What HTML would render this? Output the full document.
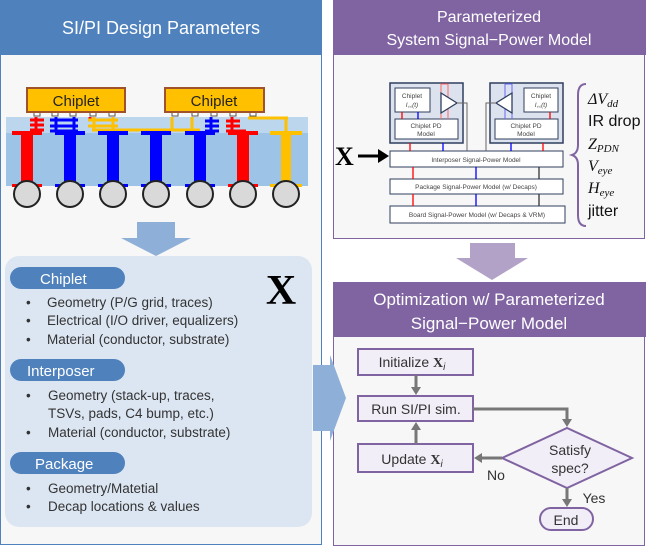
<!DOCTYPE html>
<html><head><style>
body{margin:0;width:646px;height:546px;background:#fff;overflow:hidden}
text{font-family:"Liberation Sans",sans-serif}
</style></head><body>
<svg width="646" height="546" viewBox="0 0 646 546" xmlns="http://www.w3.org/2000/svg">
<!-- left panel -->
<rect x="0.5" y="0.5" width="321" height="544" fill="#f7f7f7" stroke="#4f81bd"/>
<rect x="0" y="0" width="322" height="55" fill="#4f81bd"/>
<text x="161" y="34" font-size="18" fill="#fff" text-anchor="middle">SI/PI Design Parameters</text>
<rect x="6" y="117" width="302" height="17" fill="#bcd6ee"/>
<rect x="6" y="133" width="302" height="53" fill="#9dc3e6"/>
<g fill="#fff" stroke="#555" stroke-width="1">
<rect x="34" y="112" width="6" height="4"/><rect x="52" y="112" width="6" height="4"/><rect x="70" y="112" width="6" height="4"/><rect x="90" y="112" width="6" height="4"/><rect x="109" y="112" width="6" height="4"/>
<rect x="172" y="112" width="6" height="4"/><rect x="192" y="112" width="6" height="4"/><rect x="211" y="112" width="6" height="4"/><rect x="230" y="112" width="6" height="4"/><rect x="250" y="112" width="6" height="4"/>
</g>
<rect x="27" y="88" width="98" height="24" fill="#ffc000" stroke="#a0522d" stroke-width="2"/>
<rect x="165" y="88" width="99" height="24" fill="#ffc000" stroke="#a0522d" stroke-width="2"/>
<text x="76" y="106" font-size="15" text-anchor="middle" fill="#222">Chiplet</text>
<text x="214" y="106" font-size="15" text-anchor="middle" fill="#222">Chiplet</text>
<g stroke-width="3">
<path d="M36 117v15M30 120h14M30 125h14M30 130h14M90 117v2" stroke="#f00"/>
<path d="M56 117v14M74 117v14M50 120h28M50 126h28M50 131h28" stroke="#00f"/>
<path d="M94 117v12M113 117v12M88 120h30M88 126h30M92 130h108M172 117v12M192 117v12" stroke="#ffc000"/>
<path d="M211 117v14M205 121h14M205 126h14M205 131h14" stroke="#00f"/>
<path d="M232 117v14M226 121h14M226 126h14M226 131h20" stroke="#f00"/>
<path d="M248 118h40M286 118v15" stroke="#ffc000"/>
</g>
<g>
<rect x="21" y="134" width="12" height="51" fill="#f00"/><rect x="12" y="131" width="30" height="4" fill="#f00"/><rect x="12" y="184" width="30" height="3" fill="#f00"/>
<rect x="64" y="134" width="12" height="51" fill="#00f"/><rect x="55" y="131" width="30" height="4" fill="#00f"/><rect x="55" y="184" width="30" height="3" fill="#00f"/>
<rect x="107" y="134" width="12" height="51" fill="#00f"/><rect x="98" y="131" width="30" height="4" fill="#00f"/><rect x="98" y="184" width="30" height="3" fill="#00f"/>
<rect x="150" y="134" width="12" height="51" fill="#00f"/><rect x="141" y="131" width="30" height="4" fill="#00f"/><rect x="141" y="184" width="30" height="3" fill="#00f"/>
<rect x="194" y="134" width="12" height="51" fill="#00f"/><rect x="185" y="131" width="30" height="4" fill="#00f"/><rect x="185" y="184" width="30" height="3" fill="#00f"/>
<rect x="237" y="134" width="12" height="51" fill="#f00"/><rect x="228" y="131" width="30" height="4" fill="#f00"/><rect x="228" y="184" width="30" height="3" fill="#f00"/>
<rect x="281" y="134" width="10" height="51" fill="#ffc000"/><rect x="270" y="131" width="32" height="4" fill="#ffc000"/><rect x="270" y="184" width="32" height="3" fill="#ffc000"/>
</g>
<g fill="#d9d9d9" stroke="#222" stroke-width="2">
<circle cx="27" cy="194" r="13"/><circle cx="70" cy="194" r="13"/><circle cx="113" cy="194" r="13"/><circle cx="156" cy="194" r="13"/><circle cx="200" cy="194" r="13"/><circle cx="243" cy="194" r="13"/><circle cx="286" cy="194" r="13"/>
</g>
<polygon points="137,222 175,222 175,238 191,238 156,256 121,238 137,238" fill="#8eb0d8"/>
<rect x="5" y="256" width="307" height="271" rx="14" fill="#dce6f2"/>
<text x="281" y="304" font-size="42" font-weight="bold" text-anchor="middle" fill="#000" style="font-family:'Liberation Serif',serif">X</text>
<g fill="#4f81bd"><rect x="10" y="267" width="115" height="22" rx="11"/><rect x="10" y="359" width="115" height="22" rx="11"/><rect x="10" y="452" width="115" height="22" rx="11"/></g>
<g fill="#fff" font-size="15"><text x="40" y="284">Chiplet</text><text x="27" y="376">Interposer</text><text x="35" y="469">Package</text></g>
<g fill="#333" font-size="13.5">
<text x="26" y="307">•</text><text x="47" y="307">Geometry (P/G grid,  traces)</text>
<text x="26" y="325">•</text><text x="47" y="325">Electrical (I/O driver, equalizers)</text>
<text x="26" y="344">•</text><text x="47" y="344">Material (conductor, substrate)</text>
<text x="26" y="400">•</text><text x="48" y="400">Geometry (stack-up, traces,</text>
<text x="48" y="418">TSVs, pads, C4 bump, etc.)</text>
<text x="26" y="437">•</text><text x="48" y="437">Material (conductor, substrate)</text>
<text x="26" y="493">•</text><text x="48" y="493">Geometry/Matetial</text>
<text x="26" y="511">•</text><text x="48" y="511">Decap locations &amp; values</text>
</g>

<!-- right top panel -->
<rect x="333.5" y="0.5" width="311" height="238" fill="#f7f7f7" stroke="#8064a2"/>
<rect x="333" y="0" width="313" height="55" fill="#8064a2"/>
<text x="489" y="22" font-size="16" fill="#fff" text-anchor="middle">Parameterized</text>
<text x="489" y="45" font-size="16" fill="#fff" text-anchor="middle">System Signal−Power Model</text>
<g stroke="#2f3f5f" fill="#fff">
<rect x="390" y="83" width="73" height="60" stroke-width="1.5" fill="#dde3ee"/>
<rect x="490" y="83" width="73" height="60" stroke-width="1.5" fill="#dde3ee"/>
<rect x="395" y="88" width="35" height="24"/><rect x="524" y="88" width="34" height="24"/>
<rect x="395" y="119" width="63" height="20"/><rect x="495" y="119" width="63" height="20"/>
<rect x="390" y="151" width="173" height="16"/><rect x="390" y="179" width="173" height="15"/><rect x="390" y="206" width="175" height="17"/>
</g>
<path d="M441 84v35M448 84v35M441 84h7" stroke="#f66" fill="none"/>
<path d="M505 84v35M512 84v35M505 84h7" stroke="#66f" fill="none"/>
<polygon points="441,93 457,103 441,113" fill="#fff" stroke="#2f3f5f" stroke-width="1.3"/>
<polygon points="512,93 496,103 512,113" fill="#fff" stroke="#2f3f5f" stroke-width="1.3"/>
<path d="M457,103 H467 V151 M496,103 H486 V151" stroke="#666" fill="none"/>
<g stroke-width="1.3">
<path d="M402 112v7M410 143v8M413 167v12M413 194v12" stroke="#f00"/><path d="M418 112v7M443 143v8M476 167v12M476 194v12" stroke="#00f"/>
<path d="M550 112v7M543 143v8" stroke="#f00"/><path d="M511 143v8" stroke="#00f"/><path d="M539 167v12M539 194v12" stroke="#333"/>
</g>
<g font-size="6.5" fill="#444" text-anchor="middle">
<text x="412" y="98">Chiplet</text><text x="412" y="107" font-style="italic">I꜀꜀(t)</text>
<text x="541" y="98">Chiplet</text><text x="541" y="107" font-style="italic">I꜀꜀(t)</text>
<text x="426" y="128">Chiplet PD</text><text x="426" y="136">Model</text>
<text x="526" y="128">Chiplet PD</text><text x="526" y="136">Model</text>
<text x="476" y="162">Interposer  Signal-Power  Model</text>
<text x="476" y="189">Package  Signal-Power  Model  (w/ Decaps)</text>
<text x="477" y="217">Board Signal-Power Model (w/ Decaps &amp; VRM)</text>
</g>
<text x="335" y="165" font-size="26" font-weight="bold" style="font-family:'Liberation Serif',serif">X</text>
<path d="M358 156h22" stroke="#000" stroke-width="3"/><polygon points="389,156 378,149 378,163" fill="#000"/>
<path d="M586 84 Q578 84 578 95 L578 145 Q578 153 572 155 Q578 157 578 165 L578 215 Q578 226 586 226" stroke="#8064a2" stroke-width="2" fill="none"/>
<g font-size="16" fill="#111">
<text x="588" y="104" font-style="italic" style="font-family:'Liberation Serif',serif">ΔV<tspan font-size="11" dy="3">dd</tspan></text>
<text x="588" y="126">IR drop</text>
<text x="588" y="149" font-style="italic" style="font-family:'Liberation Serif',serif">Z<tspan font-size="11" dy="3">PDN</tspan></text>
<text x="588" y="171" font-style="italic" style="font-family:'Liberation Serif',serif">V<tspan font-size="11" dy="3">eye</tspan></text>
<text x="588" y="193" font-style="italic" style="font-family:'Liberation Serif',serif">H<tspan font-size="11" dy="3">eye</tspan></text>
<text x="588" y="216">jitter</text>
</g>
<polygon points="470,243 515,243 515,258 528,258 492,280 456,258 470,258" fill="#b3a2c7"/>

<!-- right bottom panel -->
<rect x="333.5" y="282.5" width="311" height="263" fill="#f7f7f7" stroke="#8064a2"/>
<rect x="333" y="282" width="313" height="55" fill="#8064a2"/>
<text x="489" y="305" font-size="17" fill="#fff" text-anchor="middle">Optimization w/ Parameterized</text>
<text x="489" y="329" font-size="17" fill="#fff" text-anchor="middle">Signal−Power Model</text>
<g stroke-width="2" fill="#f2eef7" stroke="#8064a2">
<rect x="358" y="349" width="115" height="26"/>
<rect x="358" y="396" width="115" height="25"/>
<rect x="358" y="444" width="115" height="28"/>
<polygon points="502,458 567,428 632,458 567,488"/>
<rect x="540" y="508" width="53" height="22" rx="11"/>
</g>
<g stroke="#777" stroke-width="3" fill="none"><path d="M416 375v13M416 444v-15M473 409h94v10M502 458h-20M567 488v12"/></g>
<g fill="#777"><polygon points="411,387 421,387 416,395"/><polygon points="411,430 421,430 416,422"/><polygon points="562,419 572,419 567,427"/><polygon points="482,453 482,463 474,458"/><polygon points="562,499 572,499 567,507"/></g>
<g font-size="14" fill="#333" text-anchor="middle">
<text x="412" y="367">Initialize <tspan font-weight="bold" style="font-family:'Liberation Serif',serif">X</tspan><tspan font-style="italic" font-size="10" dy="3">i</tspan></text>
<text x="416" y="414">Run SI/PI sim.</text>
<text x="412" y="464">Update <tspan font-weight="bold" style="font-family:'Liberation Serif',serif">X</tspan><tspan font-style="italic" font-size="10" dy="3">i</tspan></text>
<text x="570" y="455">Satisfy</text><text x="570" y="473">spec?</text>
<text x="566" y="525">End</text>
<text x="496" y="480">No</text><text x="594" y="503">Yes</text>
</g>
<!-- right arrow on top -->
<polygon points="313,365 330,365 330,355 346,398 330,441 330,431 313,431" fill="#8eb0d8"/>
</svg>
</body></html>
